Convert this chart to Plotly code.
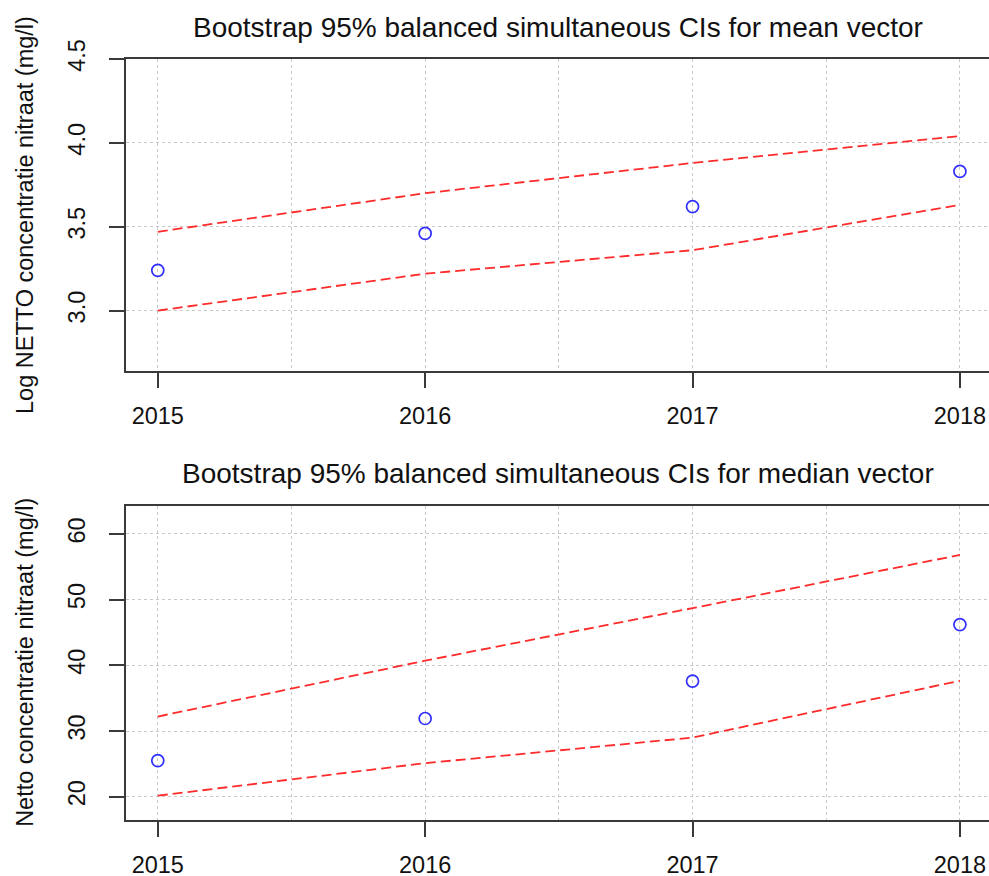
import plotly.graph_objects as go

years = [2015, 2016, 2017, 2018]

# log mean vector with simultaneous CI
mean_est = [3.24, 3.46, 3.62, 3.83]
mean_lower = [3.00, 3.22, 3.36, 3.63]
mean_upper = [3.47, 3.70, 3.88, 4.04]

# median vector with simultaneous CI
median_est = [25.5, 31.9, 37.6, 46.2]
median_lower = [20.15, 25.1, 29.0, 37.65]
median_upper = [32.2, 40.7, 48.7, 56.8]

titles = ['Bootstrap 95% balanced simultaneous CIs for mean vector',
          'Bootstrap 95% balanced simultaneous CIs for median vector']
ytitles = ['Log NETTO concentratie nitraat (mg/l)',
           'Netto concentratie nitraat (mg/l)']

FONT = 'Liberation Sans, Arial, sans-serif'
# the original plot box runs a couple of pixels past the right edge of the picture
W, H = 992, 876
line_col = '#3a3a3a'
grid_col = '#c8c8c8'

fig = go.Figure()

def add_panel(est, lo, hi, xa, ya):
    for band in (hi, lo):
        fig.add_trace(go.Scatter(
            x=years, y=band, mode='lines',
            line=dict(color='#ff2a2a', width=1.8, dash='10px,5px'),
            xaxis=xa, yaxis=ya, showlegend=False, hoverinfo='skip'))
    fig.add_trace(go.Scatter(
        x=years, y=est, mode='markers',
        marker=dict(symbol='circle-open', size=12, color='#3030ff',
                    line=dict(width=1.7, color='#3030ff')),
        xaxis=xa, yaxis=ya, showlegend=False))

add_panel(mean_est, mean_lower, mean_upper, 'x', 'y')
add_panel(median_est, median_lower, median_upper, 'x2', 'y2')

xdom = [125.7 / W, 1.0]
top_dom = [1 - 371 / H, 1 - 59 / H]
bot_dom = [1 - 820 / H, 1 - 505.7 / H]

xaxis_style = dict(
    range=[2014.88, 2018.12], domain=xdom, tick0=2015, dtick=1,
    ticks='outside', ticklen=15, tickwidth=1.5, tickcolor=line_col,
    showline=True, linecolor=line_col, linewidth=1.5, mirror=True,
    showgrid=True, gridcolor=grid_col, griddash='dot', gridwidth=1,
    minor=dict(dtick=0.5, tick0=2015, showgrid=True, gridcolor=grid_col,
               griddash='dot', gridwidth=1, ticks=''),
    zeroline=False, ticklabelstandoff=8, automargin=False,
    tickfont=dict(family=FONT, size=23.5, color='#111'))

yaxis_style = dict(
    ticks='outside', ticklen=15, tickwidth=1.5, tickcolor=line_col,
    showline=True, linecolor=line_col, linewidth=1.5, mirror=False,
    showgrid=True, gridcolor=grid_col, griddash='dot', gridwidth=1,
    zeroline=False, tickangle=-90, ticklabelstandoff=15, automargin=False,
    tickfont=dict(family=FONT, size=23.5, color='#111'))

fig.update_layout(
    width=W, height=H,
    margin=dict(l=0, r=0, t=0, b=0),
    plot_bgcolor='white', paper_bgcolor='white',
    xaxis=dict(xaxis_style, anchor='y'),
    xaxis2=dict(xaxis_style, anchor='y2'),
    yaxis=dict(yaxis_style, domain=top_dom, range=[2.64, 4.5],
               tickvals=[3.0, 3.5, 4.0, 4.5], ticktext=['3.0', '3.5', '4.0', '4.5'],
               anchor='x'),
    yaxis2=dict(yaxis_style, domain=bot_dom, range=[16.45, 64.3],
                tickvals=[20, 30, 40, 50, 60], anchor='x2'),
)

# panel titles and y-axis titles as annotations
ann = []
for t, yc in zip(titles, [27, 473]):
    ann.append(dict(text=t, x=558 / W, y=1 - yc / H, xref='paper', yref='paper',
                    xanchor='center', yanchor='middle', showarrow=False,
                    font=dict(family=FONT, size=28, color='#111')))
for t, dom in zip(ytitles, [top_dom, bot_dom]):
    ann.append(dict(text=t, x=25 / W, y=(dom[0] + dom[1]) / 2, xref='paper', yref='paper',
                    xanchor='center', yanchor='middle', textangle=-90, showarrow=False,
                    font=dict(family=FONT, size=23.5, color='#111')))
fig.update_layout(annotations=ann)

# no page margin and no scrollbars, so the figure sits at the window's corner
fig.write_html('out.html', config={'displayModeBar': False},
               post_script="document.body.style.margin='0';"
                           "document.body.style.overflow='hidden';")
